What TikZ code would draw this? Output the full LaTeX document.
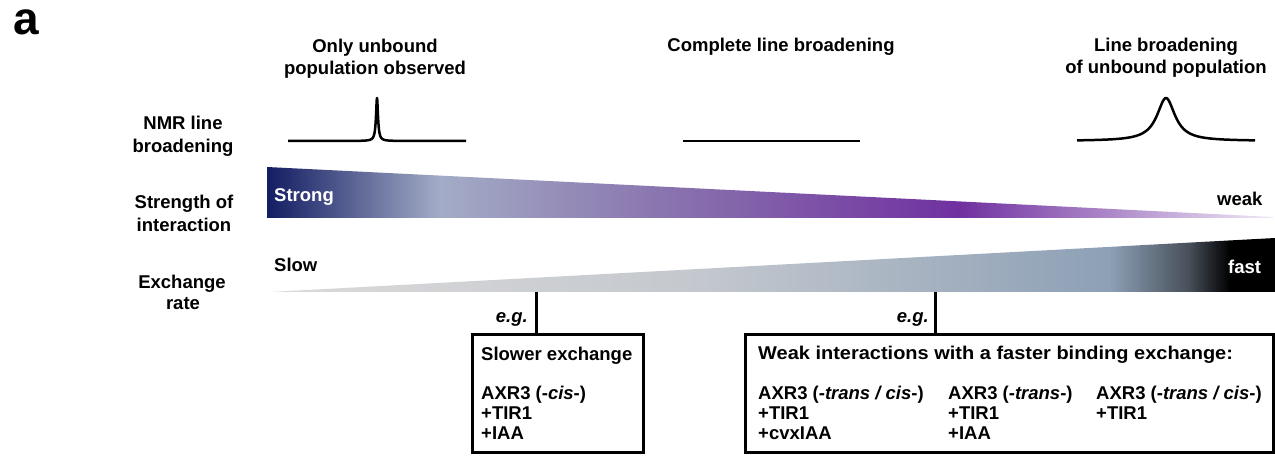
\documentclass[tikz,border=0pt]{standalone}
\usepackage{fontspec}
\setmainfont{Liberation Sans}
\begin{document}
\begin{tikzpicture}[x=1pt,y=-1pt,
  lbl/.style={inner sep=0pt,font=\fontsize{18.5}{22}\selectfont\bfseries},
  lblc/.style={lbl,anchor=base},
  lblw/.style={lbl,anchor=base west},
  lble/.style={lbl,anchor=base east},
  peakline/.style={line width=2.5pt,line join=round},
  boxframe/.style={draw=black,line width=3pt,inner sep=0pt,fill=white},
  conn/.style={line width=3pt}]
\definecolor{navy}{RGB}{18,28,98}
\definecolor{grayblue}{RGB}{163,172,198}
\definecolor{midpurple}{RGB}{140,122,176}
\definecolor{purp}{RGB}{112,48,160}
\definecolor{lav}{RGB}{240,234,246}
\definecolor{lgray}{RGB}{218,218,218}
\definecolor{mgray}{RGB}{196,200,206}
\definecolor{bgray}{RGB}{141,160,182}
\definecolor{dgray}{RGB}{70,78,88}
\useasboundingbox (0,0) rectangle (1275,457);
\fill[white] (0,0) rectangle (1275,457);

% panel letter
\node[inner sep=0pt,anchor=base west,font=\fontsize{46}{50}\selectfont\bfseries] (panel) at (13,35) {a};

% column headers
\node[lblc] (h1a) at (375,53) {Only unbound};
\node[lblc] (h1b) at (375,75) {population observed};
\node[lblc] (h2) at (781,52) {Complete line broadening};
\node[lblc] (h3a) at (1166,52) {Line broadening};
\node[lblc] (h3b) at (1166,74) {of unbound population};

% row labels
\node[lblc] (r1a) at (183,130) {NMR line};
\node[lblc] (r1b) at (183,153) {broadening};
\node[lblc] (r2a) at (184,209) {Strength of};
\node[lblc] (r2b) at (184,232) {interaction};
\node[lblc] (r3a) at (182,288) {Exchange};
\node[lblc] (r3b) at (183,309) {rate};

% NMR lines
\draw[peakline] plot[domain=288:466,samples=713] (\x,{141-43*1.44/((\x-377)*(\x-377)+1.44)});
\draw[peakline] (683,141) -- (860,141);
\draw[peakline] plot[domain=1077:1255,samples=179] (\x,{141-43*121/((\x-1166)*(\x-1166)+121)});

% strength of interaction wedge
\begin{scope}
\clip (267,167) -- (1273,217) -- (1273,218) -- (267,218) -- cycle;
\shade[left color=navy,right color=grayblue] (266,160) rectangle (440,220);
\shade[left color=grayblue,right color=midpurple] (439.5,160) rectangle (640,220);
\shade[left color=midpurple,right color=purp] (639.5,160) rectangle (960,220);
\shade[left color=purp,right color=lav] (959.5,160) rectangle (1275,220);
\end{scope}
\node[lblw,text=white] (strong) at (274,202) {Strong};
\node[lblw] (weak) at (1217,206) {weak};

% exchange rate wedge
\begin{scope}
\clip (270,292) -- (1275,238) -- (1275,292) -- cycle;
\shade[left color=lgray,right color=mgray] (268,230) rectangle (700,295);
\shade[left color=mgray,right color=bgray] (699.5,230) rectangle (1110,295);
\shade[left color=bgray,right color=dgray] (1109.5,230) rectangle (1190,295);
\shade[left color=dgray,right color=black] (1189.5,230) rectangle (1230,295);
\fill[black] (1229.5,230) rectangle (1276,295);
\end{scope}
\node[lblw] (slow) at (274,272) {Slow};
\node[lblw,text=white] (fast) at (1228,273) {fast};

% boxes
\node[boxframe,minimum width=171pt,minimum height=118pt] (b1) at (557.5,393) {};
\node[boxframe,minimum width=528pt,minimum height=118pt] (b2) at (1009,393) {};

% connectors
\coordinate (c1) at (536,292);
\coordinate (c2) at (935,292);
\draw[conn] (c1) -- (c1 |- b1.north);
\draw[conn] (c2) -- (c2 |- b2.north);
\node[lble] (eg1) at (528,323) {\textit{e.g.}};
\node[lble] (eg2) at (929,323) {\textit{e.g.}};

% box 1 text
\node[lblw] (t1) at (481,360) {Slower exchange};
\node[lblw] (t1a) at (481,399) {AXR3 (-\textit{cis}-)};
\node[lblw] (t1b) at (481,419) {+TIR1};
\node[lblw] (t1c) at (481,439) {+IAA};

% box 2 text
\node[lblw] (t2) at (758,359) {\scalebox{1.08}[1]{Weak interactions with a faster binding exchange:}};
\node[lblw] (t2a) at (758,399) {AXR3 (-\textit{trans / cis}-)};
\node[lblw] (t2b) at (758,419) {+TIR1};
\node[lblw] (t2c) at (758,439) {+cvxIAA};
\node[lblw] (t3a) at (948,399) {AXR3 (-\textit{trans}-)};
\node[lblw] (t3b) at (948,419) {+TIR1};
\node[lblw] (t3c) at (948,439) {+IAA};
\node[lblw] (t4a) at (1096,399) {AXR3 (-\textit{trans / cis}-)};
\node[lblw] (t4b) at (1096,419) {+TIR1};
\end{tikzpicture}
\end{document}
